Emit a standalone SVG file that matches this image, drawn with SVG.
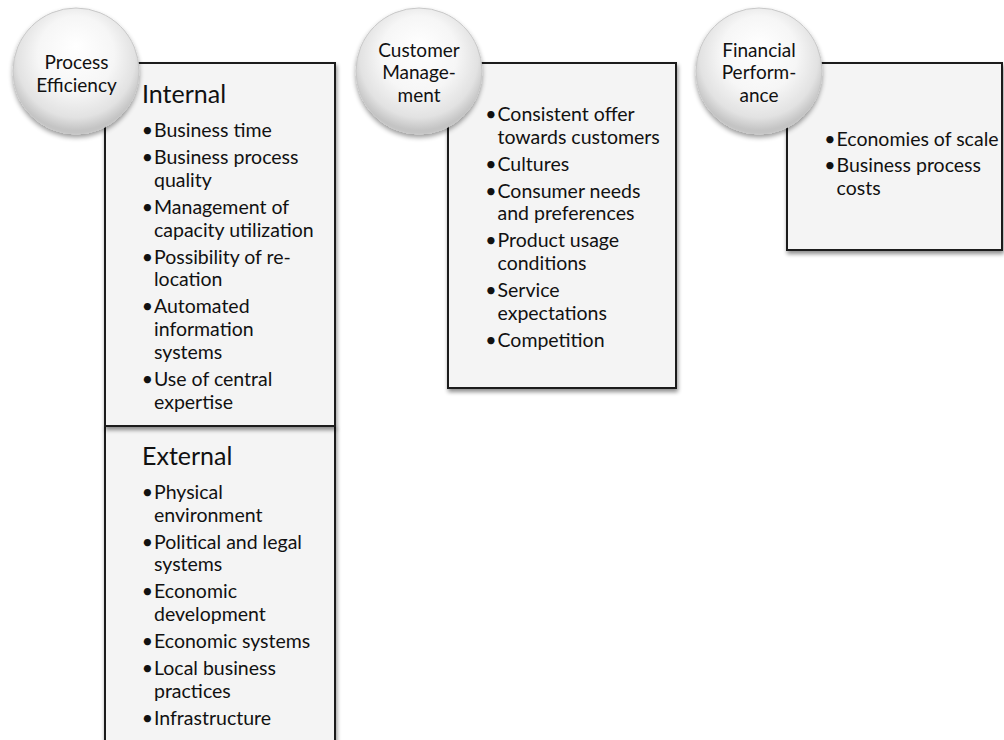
<svg xmlns="http://www.w3.org/2000/svg" width="1004" height="740" viewBox="0 0 1004 740">
<defs>
<radialGradient id="ball" cx="50%" cy="42%" r="55%" fx="50%" fy="30%">
<stop offset="0" stop-color="#ffffff"/>
<stop offset="0.55" stop-color="#f6f6f6"/>
<stop offset="0.85" stop-color="#e2e2e2"/>
<stop offset="1" stop-color="#c4c4c4"/>
</radialGradient>
<filter id="boxShadow" x="-10%" y="-10%" width="130%" height="130%">
<feGaussianBlur in="SourceAlpha" stdDeviation="2"/>
<feOffset dx="1" dy="3" result="b"/>
<feComponentTransfer><feFuncA type="linear" slope="0.45"/></feComponentTransfer>
<feMerge><feMergeNode/><feMergeNode in="SourceGraphic"/></feMerge>
</filter>
<filter id="ballShadow" x="-20%" y="-20%" width="140%" height="150%">
<feGaussianBlur in="SourceAlpha" stdDeviation="2.5"/>
<feOffset dx="0" dy="3" result="b"/>
<feComponentTransfer><feFuncA type="linear" slope="0.4"/></feComponentTransfer>
<feMerge><feMergeNode/><feMergeNode in="SourceGraphic"/></feMerge>
</filter>
</defs>
<style>
.box{fill:#f4f4f4;stroke:#1c1c1c;stroke-width:2;filter:url(#boxShadow)}
.ball{fill:url(#ball);stroke:#c8c8c8;stroke-width:1;filter:url(#ballShadow)}
text{font-family:Lato,"Liberation Sans",sans-serif;fill:#111}
.t{font-size:19.5px}
.h{font-size:25px}
.c{font-size:19px;text-anchor:middle}
.b{font-size:19.5px;text-anchor:middle}
</style>
<rect width="1004" height="740" fill="#ffffff"/>
<g id="connectors"/>

<g id="process-efficiency">
<rect class="box" x="105" y="426" width="230" height="340"/>
<rect class="box" x="105" y="63" width="230" height="363"/>
<g id="internal-text">
<text class="h" x="142" y="103.3">Internal</text>
<text class="b" x="147.5" y="137.3">•</text><text class="t" x="154" y="137.3">Business time</text>
<text class="b" x="147.5" y="164.3">•</text><text class="t" x="154" y="164.3">Business process</text>
<text class="t" x="154" y="187">quality</text>
<text class="b" x="147.5" y="214">•</text><text class="t" x="154" y="214">Management of</text>
<text class="t" x="154" y="236.7">capacity utilization</text>
<text class="b" x="147.5" y="263.7">•</text><text class="t" x="154" y="263.7">Possibility of re-</text>
<text class="t" x="154" y="286.4">location</text>
<text class="b" x="147.5" y="313.4">•</text><text class="t" x="154" y="313.4">Automated</text>
<text class="t" x="154" y="336.1">information</text>
<text class="t" x="154" y="358.8">systems</text>
<text class="b" x="147.5" y="385.8">•</text><text class="t" x="154" y="385.8">Use of central</text>
<text class="t" x="154" y="408.5">expertise</text>
</g>
<g id="external-text">
<text class="h" x="142" y="465">External</text>
<text class="b" x="147.5" y="499">•</text><text class="t" x="154" y="499">Physical</text>
<text class="t" x="154" y="521.7">environment</text>
<text class="b" x="147.5" y="548.7">•</text><text class="t" x="154" y="548.7">Political and legal</text>
<text class="t" x="154" y="571.4">systems</text>
<text class="b" x="147.5" y="598.4">•</text><text class="t" x="154" y="598.4">Economic</text>
<text class="t" x="154" y="621.1">development</text>
<text class="b" x="147.5" y="648.1">•</text><text class="t" x="154" y="648.1">Economic systems</text>
<text class="b" x="147.5" y="675.1">•</text><text class="t" x="154" y="675.1">Local business</text>
<text class="t" x="154" y="697.8">practices</text>
<text class="b" x="147.5" y="724.8">•</text><text class="t" x="154" y="724.8">Infrastructure</text>
</g>
<circle class="ball" cx="76" cy="71" r="63"/>
<text class="c" x="76.5" y="69">Process</text>
<text class="c" x="76.5" y="91.7">Efficiency</text>
</g>

<g id="customer-management">
<rect class="box" x="448" y="63" width="228" height="325"/>
<text class="b" x="491" y="121">•</text><text class="t" x="497.5" y="121">Consistent offer</text>
<text class="t" x="497.5" y="143.7">towards customers</text>
<text class="b" x="491" y="170.7">•</text><text class="t" x="497.5" y="170.7">Cultures</text>
<text class="b" x="491" y="197.7">•</text><text class="t" x="497.5" y="197.7">Consumer needs</text>
<text class="t" x="497.5" y="220.4">and preferences</text>
<text class="b" x="491" y="247.4">•</text><text class="t" x="497.5" y="247.4">Product usage</text>
<text class="t" x="497.5" y="270.1">conditions</text>
<text class="b" x="491" y="297.1">•</text><text class="t" x="497.5" y="297.1">Service</text>
<text class="t" x="497.5" y="319.8">expectations</text>
<text class="b" x="491" y="346.8">•</text><text class="t" x="497.5" y="346.8">Competition</text>
<circle class="ball" cx="419" cy="71" r="63"/>
<text class="c" x="419" y="56.7">Customer</text>
<text class="c" x="419" y="79">Manage-</text>
<text class="c" x="419" y="101.5">ment</text>
</g>

<g id="financial-performance">
<rect class="box" x="787" y="63" width="215" height="187"/>
<text class="b" x="830" y="145.7">•</text><text class="t" x="836.5" y="145.7">Economies of scale</text>
<text class="b" x="830" y="171.5">•</text><text class="t" x="836.5" y="171.5">Business process</text>
<text class="t" x="836.5" y="194.5">costs</text>
<circle class="ball" cx="759" cy="71" r="63"/>
<text class="c" x="759" y="56.7">Financial</text>
<text class="c" x="759" y="79">Perform-</text>
<text class="c" x="759" y="101.5">ance</text>
</g>
</svg>
